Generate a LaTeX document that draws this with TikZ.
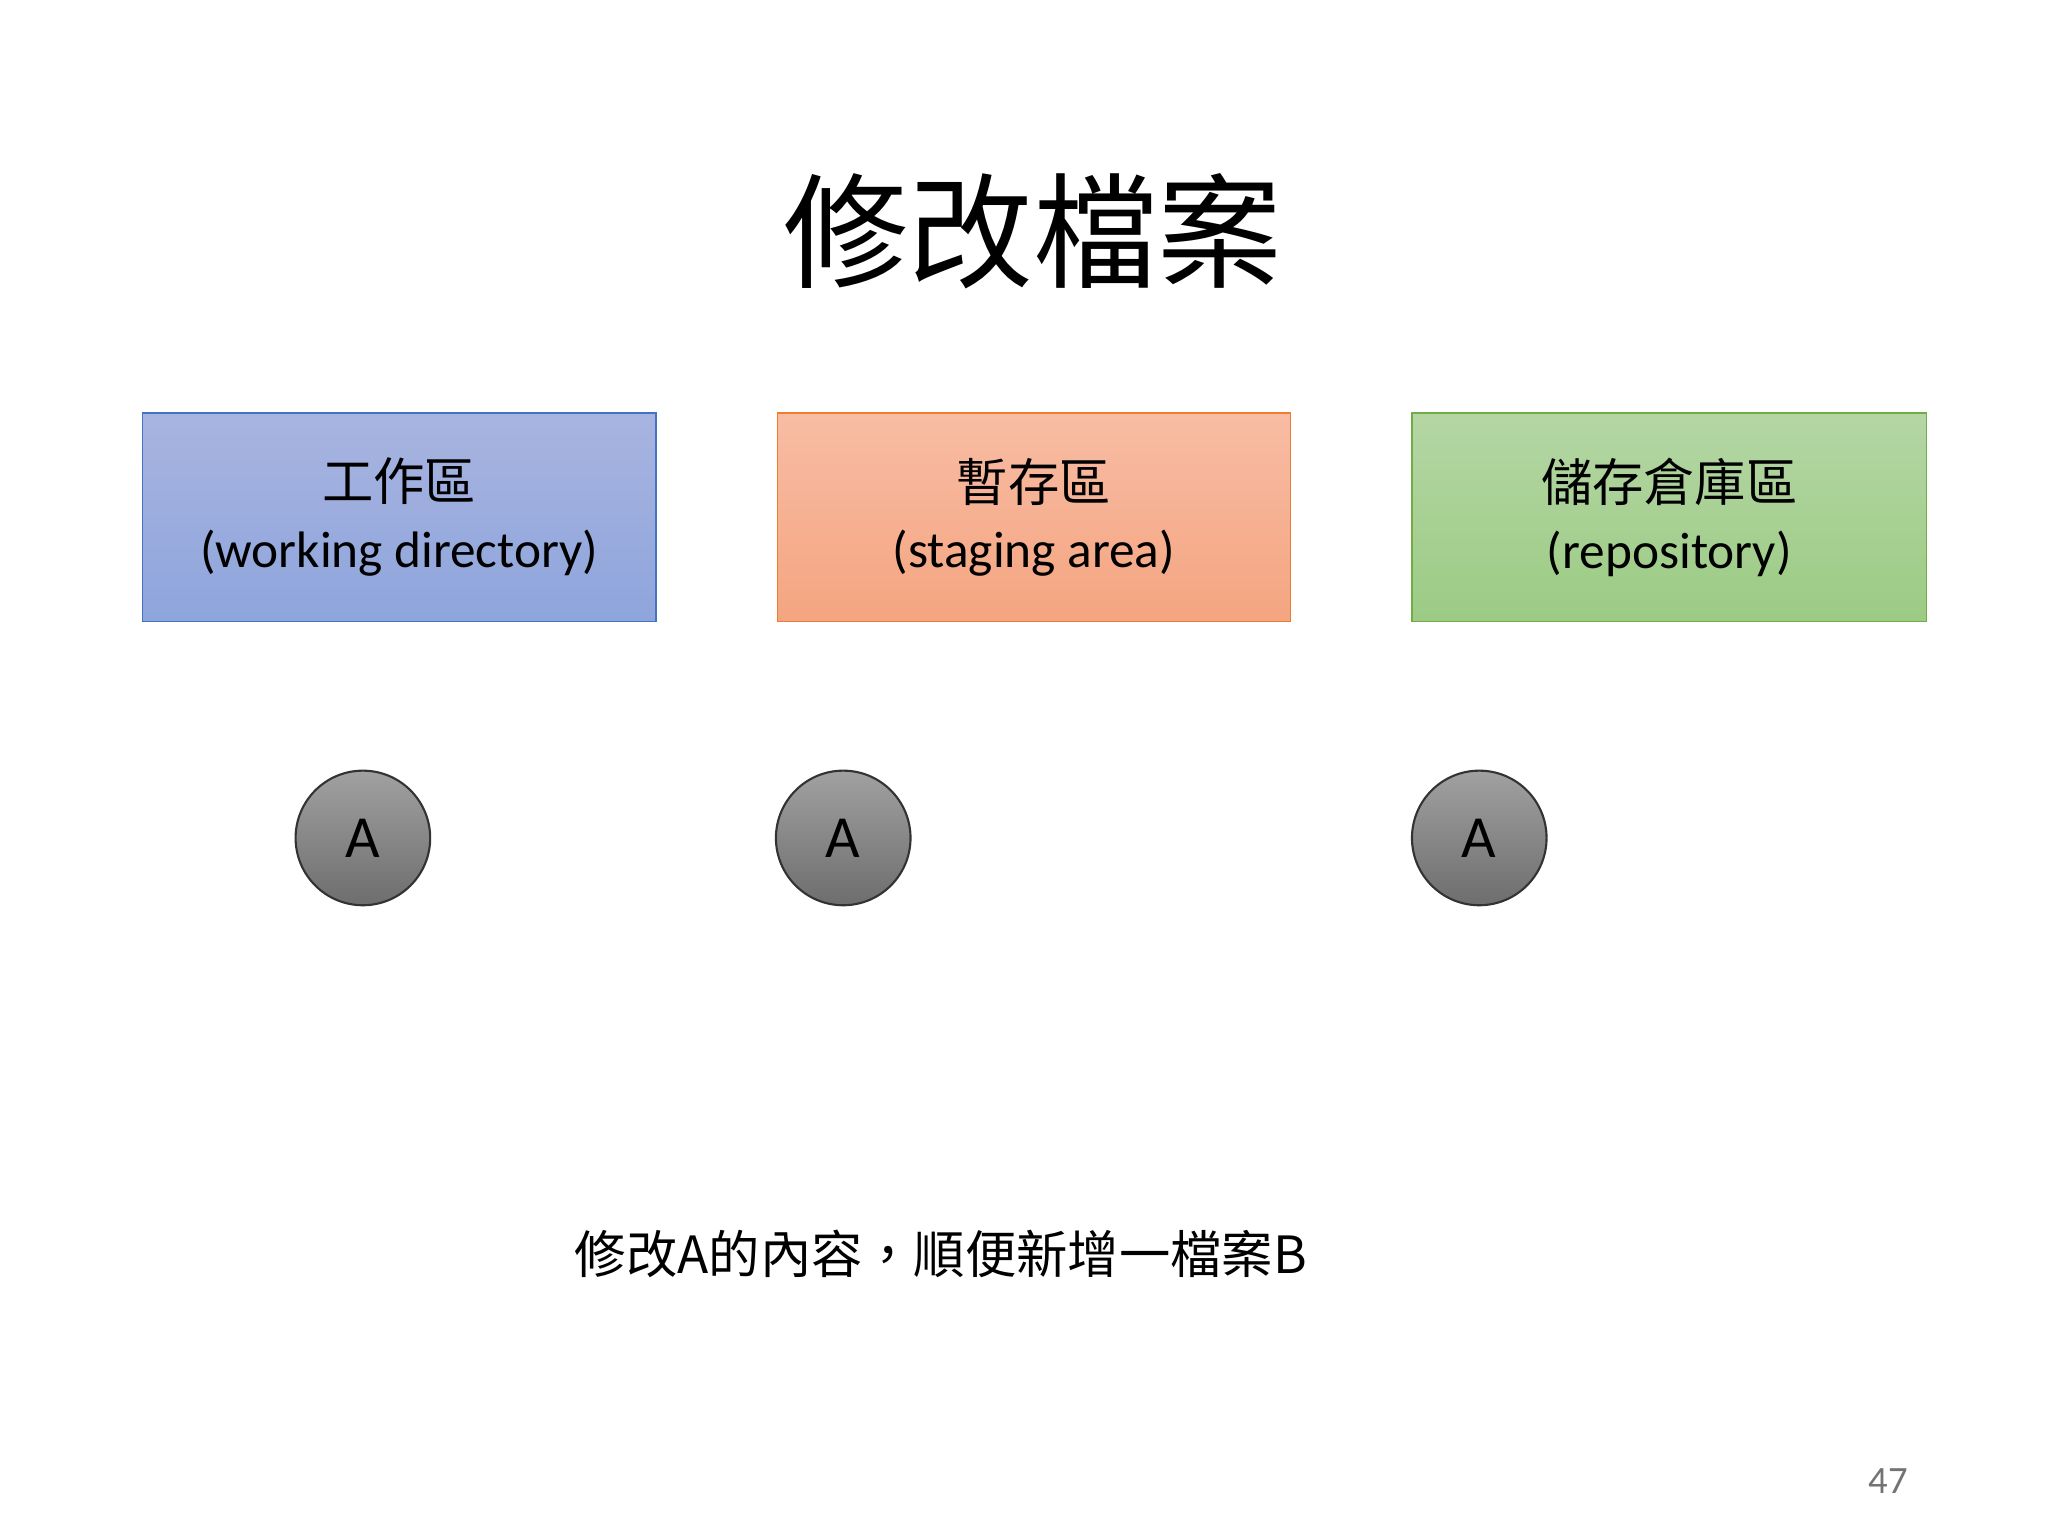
\documentclass[tikz,border=0pt]{standalone}
\usepackage{fontspec}
\setmainfont{Carlito}
\newfontfamily\cjk{Noto Sans CJK TC}
\begin{document}
\begin{tikzpicture}[x=0.013196cm,y=-0.013196cm]
\useasboundingbox (0,0) rectangle (1552,1164);
\fill[white] (0,0) rectangle (1552,1164);
\tikzset{
 area/.style={draw,line width=0.7pt,minimum width=389\pgflinewidth,inner sep=0pt,align=center,font=\fontsize{14.6pt}{19pt}\selectfont},
 blob/.style={circle,draw=black!80,line width=0.6pt,minimum size=102*0.013196cm,inner sep=0pt,top color=black!37,bottom color=black!57,font=\fontsize{17pt}{20pt}\selectfont}
}
\node[font=\cjk\fontsize{35.5pt}{40pt}\selectfont] (title) at (783,175) {修改檔案};
\path[draw=blue!60!black!60!cyan!70!blue,top color={rgb,255:red,168;green,180;blue,224},bottom color={rgb,255:red,142;green,165;blue,220},draw={rgb,255:red,68;green,114;blue,196}] (108,313) rectangle (497,471);
\node[align=center,font=\fontsize{14.6pt}{19pt}\selectfont] (wd) at (302.5,392) {{\cjk 工作區}\\(working directory)};
\path[top color={rgb,255:red,248;green,188;blue,164},bottom color={rgb,255:red,244;green,165;blue,128},draw={rgb,255:red,237;green,125;blue,49}] (589,313) rectangle (978,471);
\node[align=center,font=\fontsize{14.6pt}{19pt}\selectfont] (sa) at (783.5,392) {{\cjk 暫存區}\\(staging area)};
\path[top color={rgb,255:red,180;green,214;blue,164},bottom color={rgb,255:red,156;green,203;blue,132},draw={rgb,255:red,112;green,173;blue,71}] (1070,313) rectangle (1460,471);
\node[align=center,font=\fontsize{14.6pt}{19pt}\selectfont] (repo) at (1265,392) {{\cjk 儲存倉庫區}\\(repository)};
\node[blob] (a1) at (275,635) {A};
\node[blob] (a2) at (639,635) {A};
\node[blob] (a3) at (1121,635) {A};
\node[font=\cjk\fontsize{14.6pt}{18pt}\selectfont] (cap) at (713,950) {修改A的內容，順便新增一檔案B};
\node[text=black!55,font=\fontsize{11pt}{13pt}\selectfont] (pg) at (1431,1122) {47};
\end{tikzpicture}
\end{document}
